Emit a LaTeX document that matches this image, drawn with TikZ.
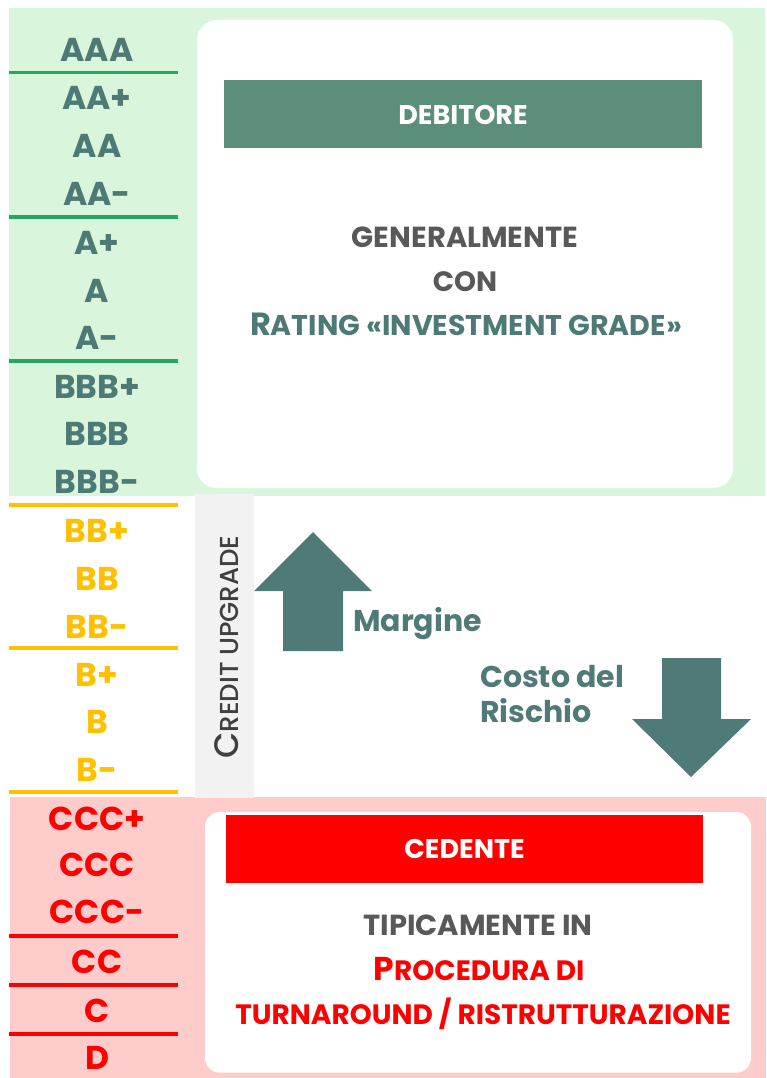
\documentclass[tikz,border=0pt]{standalone}
\usepackage{fontspec}
\setmainfont{Poppins}
\newfontfamily\popmed{Poppins Medium}
\usetikzlibrary{positioning}

\definecolor{bggreen}{RGB}{217,246,220}
\definecolor{linegreen}{RGB}{34,168,100}
\definecolor{ratinggreen}{RGB}{78,122,118}
\definecolor{debgreen}{RGB}{91,143,122}
\definecolor{ratingyellow}{RGB}{255,192,0}
\definecolor{bgpink}{RGB}{255,204,204}
\definecolor{ratingred}{RGB}{255,0,0}
\definecolor{bargray}{RGB}{242,242,242}
\definecolor{textgray}{RGB}{89,89,89}
\definecolor{upgray}{RGB}{64,64,64}
\definecolor{arrowteal}{RGB}{80,122,120}

\newcommand{\fsz}[1]{\fontsize{#1}{#1}\selectfont}

\begin{document}
\begin{tikzpicture}[
        x=1pt, y=-1pt,
        rating/.style={font=\bfseries\fsz{33}, inner sep=0pt, anchor=base},
        sep/.style={line width=3.6pt},
        boxtext/.style={font=\bfseries, inner sep=0pt, anchor=base},
        banner/.style={font=\bfseries\fsz{27}, text=white, inner sep=0pt},
        side/.style={font=\bfseries\fsz{30}, text=arrowteal, inner sep=0pt, anchor=base west}
    ]
        % Backgrounds
        \fill[white] (0,0) rectangle (766,1078);
        \useasboundingbox (0,0) rectangle (766,1078);
        \fill[bggreen] (9,8) rectangle (765,496);
        \fill[bgpink] (10,797) rectangle (766,1078);
        \fill[white, rounded corners=20pt] (197,20) rectangle (733,488);
        \fill[white, rounded corners=15pt] (205,812) rectangle (751,1072.7);
        \fill[bargray] (195,494) rectangle (254,798);

        % Rating scale
        \foreach \lab/\yy/\col [count=\i] in {AAA/50/ratinggreen, AA+/98/ratinggreen,
            AA/146/ratinggreen, AA-/193/ratinggreen, A+/242/ratinggreen, A/290/ratinggreen,
            A-/337/ratinggreen, BBB+/386/ratinggreen, BBB/433/ratinggreen, BBB-/481/ratinggreen,
            BB+/530/ratingyellow, BB/578/ratingyellow, BB-/626/ratingyellow,
            B+/674/ratingyellow, B/721/ratingyellow, B-/769/ratingyellow,
            CCC+/818/ratingred, CCC/864/ratingred, CCC-/911/ratingred,
            CC/961/ratingred, C/1010/ratingred, D/1057/ratingred}
            \node[rating, text=\col] (r\i) at (97,\yy+12) {\lab};

        \foreach \yy/\col in {72.7/linegreen, 216.7/linegreen, 360.7/linegreen,
            505/ratingyellow, 647.7/ratingyellow, 791.7/ratingyellow,
            935.7/ratingred, 984.7/ratingred, 1033.7/ratingred}
            \draw[sep, \col] (9,\yy) -- (178,\yy);

        % Debitore
        \node[banner, fill=debgreen, minimum width=478pt, minimum height=68pt] (deb) at (463,114.5) {DEBITORE};
        \node[boxtext, text=textgray, font=\bfseries\fsz{29}] (gen) at (465,247) {GENERALMENTE};
        \node[boxtext, text=textgray, font=\bfseries\fsz{28}] (con) at (465,291) {CON};
        \node[boxtext, text=ratinggreen] (inv) at (466,335) {\fsz{32}R\fsz{28.5}ATING «INVESTMENT GRADE»};

        % Credit upgrade
        \node[font=\popmed\fsz{34}, text=upgray, rotate=90, inner sep=0pt, anchor=base] (up) at (238,647) {C\fsz{26}REDIT UPGRADE};

        % Arrows
        \fill[arrowteal] (313,532) -- (372,591) -- (343,591) -- (343,651) -- (283,651) -- (283,591) -- (254,591) -- cycle;
        \fill[arrowteal] (691,777) -- (751,719) -- (721,719) -- (721,658) -- (662,658) -- (662,719) -- (632,719) -- cycle;
        \node[side] (marg) at (353,631) {Margine};
        \node[side] (costo) at (480,687) {Costo del};
        \node[side] (risch) at (480,722) {Rischio};

        % Cedente
        \node[banner, fill=ratingred, minimum width=477pt, minimum height=68pt] (ced) at (464.5,849) {CEDENTE};
        \node[boxtext, text=textgray, font=\bfseries\fsz{29}] (tip) at (478,935) {TIPICAMENTE IN};
        \node[boxtext, text=ratingred] (proc) at (479,980) {\fsz{33}P\fsz{28}ROCEDURA DI};
        \node[boxtext, text=ratingred, font=\bfseries\fsz{28}] (turn) at (483,1024) {TURNAROUND / RISTRUTTURAZIONE};
    \end{tikzpicture}
\end{document}
